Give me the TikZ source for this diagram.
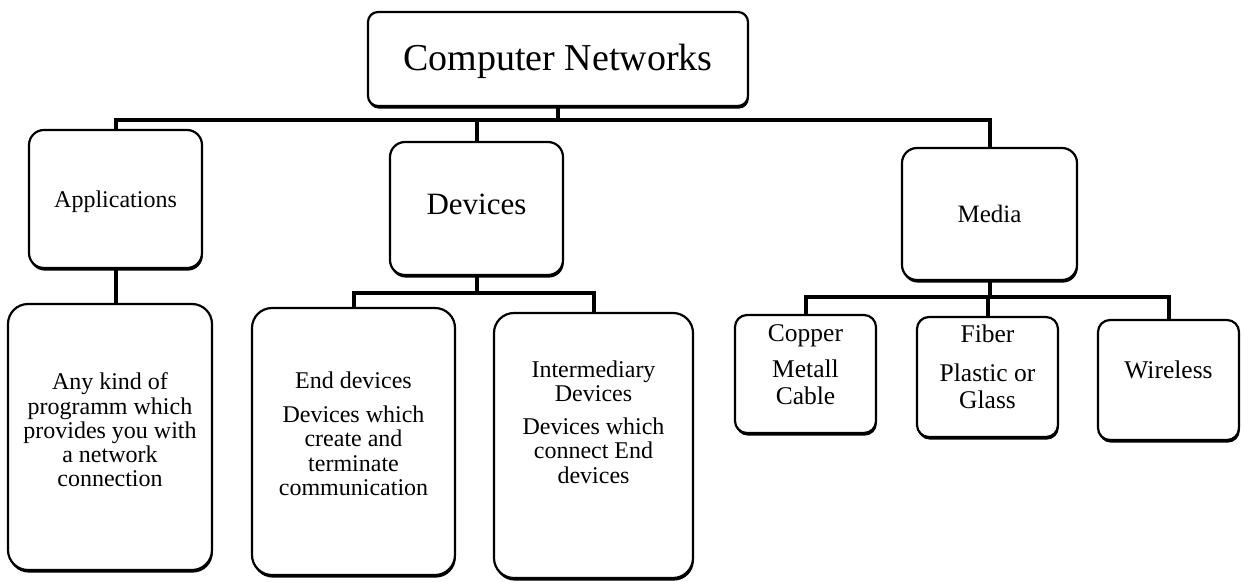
\documentclass[tikz,border=0pt]{standalone}
\usepackage{fontspec}
\setmainfont{Liberation Serif}
\usetikzlibrary{shadows,backgrounds}
\tikzset{
  box/.style={draw, line width=2.2pt, fill=white, rounded corners=#1,
    drop shadow={shadow xshift=0.8pt, shadow yshift=-2.6pt, fill=black, opacity=1}},
  box/.default=14pt,
  conn/.style={line width=4pt, line join=miter},
  lbl/.style={align=center, inner sep=0pt},
  small/.style={font=\fontsize{24}{24.3}\selectfont},
  leaf/.style={font=\fontsize{25.5}{27}\selectfont},
}
\begin{document}
\begin{tikzpicture}[x=1pt, y=-1pt]
\useasboundingbox (0,0) rectangle (1242,581);

% top level
\node[box=10pt, minimum width=380pt, minimum height=94pt] (cn) at (558,59) {};
\node[lbl, font=\fontsize{38}{40}\selectfont] (cnT) at (558,61) {Computer Networks};

% second level
\node[box=15pt, minimum width=173pt, minimum height=138pt] (app) at (115.5,199) {};
\node[lbl, font=\fontsize{24}{26}\selectfont] (appT) at (115.5,202) {Applications};

\node[box=15pt, minimum width=173pt, minimum height=133pt] (dev) at (476.5,208.5) {};
\node[lbl, font=\fontsize{31}{33}\selectfont] (devT) at (476.5,204.5) {Devices};

\node[box=15pt, minimum width=175pt, minimum height=132pt] (med) at (989.5,214) {};
\node[lbl, font=\fontsize{25}{27}\selectfont] (medT) at (989.5,213.5) {Media};

% third level
\node[box=20pt, minimum width=204pt, minimum height=266pt] (any) at (110,437) {};
\node[lbl, small] (anyT) at (110,430) {Any kind of\\programm which\\provides you with\\a network\\connection};

\node[box=20pt, minimum width=203pt, minimum height=267pt] (end) at (353.5,441.5) {};
\node[lbl, small] (endT) at (353.5,434) {End devices\\[9.5pt]Devices which\\create and\\terminate\\communication};

\node[box=20pt, minimum width=199pt, minimum height=265pt] (inter) at (593.5,445.5) {};
\node[lbl, small] (interT) at (593.5,422) {Intermediary\\Devices\\[8.5pt]Devices which\\connect End\\devices};

\node[box=12pt, minimum width=141pt, minimum height=118pt] (cop) at (805.5,374) {};
\node[lbl, leaf] (copT) at (805.5,365) {Copper\\[9pt]Metall\\Cable};

\node[box=12pt, minimum width=141pt, minimum height=120pt] (fib) at (987.5,377) {};
\node[lbl, leaf] (fibT) at (987.5,367) {Fiber\\[12pt]Plastic or\\Glass};

\node[box=12pt, minimum width=141pt, minimum height=120pt] (wir) at (1168.5,380) {};
\node[lbl, leaf] (wirT) at (1168.5,370) {Wireless};

% bus levels
\coordinate (b1) at (0,120);
\coordinate (b2) at (0,293);
\coordinate (b3) at (0,297);

\begin{scope}[on background layer]
  \draw[conn] (cn.south) -- (cn.south |- b1);
  \draw[conn] (app.north) -- (app.north |- b1) -| (med.north);
  \draw[conn] (dev.north) -- (dev.north |- b1);

  \draw[conn] (app.south) -- (app.south |- any.north);

  \draw[conn] (dev.south) -- (dev.south |- b2);
  \draw[conn] (end.north) -- (end.north |- b2) -| (inter.north);

  \draw[conn] (med.south) -- (med.south |- b3);
  \draw[conn] (cop.north) -- (cop.north |- b3) -| (wir.north);
  \draw[conn] (fib.north) -- (fib.north |- b3);
\end{scope}
\end{tikzpicture}
\end{document}
